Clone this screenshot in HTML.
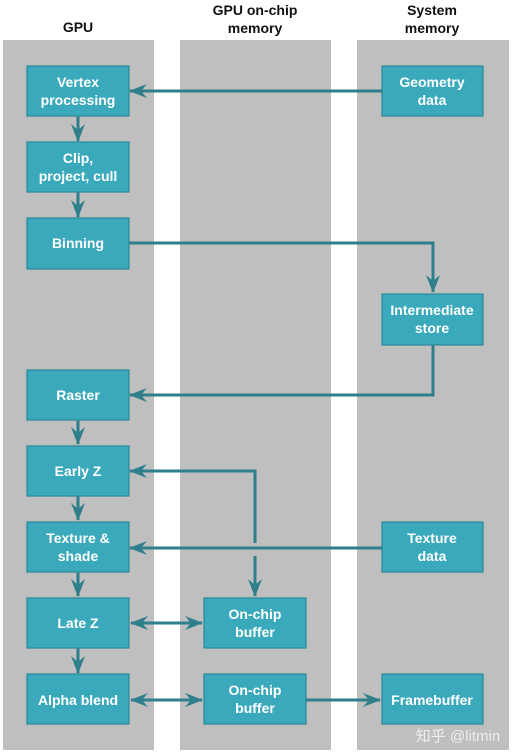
<!DOCTYPE html>
<html><head><meta charset="utf-8"><style>
html,body{margin:0;padding:0;background:#fff;width:517px;height:754px;overflow:hidden}
svg{display:block}
text{font-family:"Liberation Sans","Noto Sans CJK SC",sans-serif;font-weight:bold;font-size:14px;text-anchor:middle}
.b{fill:#3aa9bb;stroke:#2a8896;stroke-width:1.2}
.t{fill:#fff}
.l{stroke:#2e7f8b;stroke-width:3;fill:none}
.h{fill:#111}
</style></head><body>
<svg width="517" height="754" viewBox="0 0 517 754">
<defs>
<marker id="a" viewBox="0 0 18 14" refX="17" refY="7" markerWidth="18" markerHeight="14" orient="auto-start-reverse" markerUnits="userSpaceOnUse">
<path d="M0,0 L18,7 L0,14 L6,7 z" fill="#2e7f8b"/></marker>
</defs>
<rect x="3" y="40" width="151" height="710" fill="#bfbfbf"/>
<rect x="180" y="40" width="151" height="710" fill="#bfbfbf"/>
<rect x="357" y="40" width="152" height="710" fill="#bfbfbf"/>
<text class="h" x="78" y="32">GPU</text>
<text class="h" x="255" y="15">GPU on-chip</text>
<text class="h" x="255" y="33">memory</text>
<text class="h" x="432" y="15">System</text>
<text class="h" x="432" y="33">memory</text>

<path class="l" d="M382,91 H130" marker-end="url(#a)"/>
<path class="l" d="M78,116 V141" marker-end="url(#a)"/>
<path class="l" d="M78,192 V217" marker-end="url(#a)"/>
<path class="l" d="M129,243 H433 V292" marker-end="url(#a)"/>
<path class="l" d="M433,344 V395 H130" marker-end="url(#a)"/>
<path class="l" d="M78,420 V444" marker-end="url(#a)"/>
<path class="l" d="M78,496 V520" marker-end="url(#a)"/>
<path class="l" d="M78,572 V596" marker-end="url(#a)"/>
<path class="l" d="M78,648 V673" marker-end="url(#a)"/>
<path class="l" d="M255,543 V471 H130" marker-end="url(#a)"/>
<path class="l" d="M255,556 V596" marker-end="url(#a)"/>
<path class="l" d="M382,548 H130" marker-end="url(#a)"/>
<path class="l" d="M131,623 H202" marker-start="url(#a)" marker-end="url(#a)"/>
<path class="l" d="M131,700 H202" marker-start="url(#a)" marker-end="url(#a)"/>
<path class="l" d="M306,700 H380" marker-end="url(#a)"/>

<rect class="b" x="27" y="66" width="102" height="50"/>
<text class="t" x="78" y="87">Vertex</text><text class="t" x="78" y="105">processing</text>
<rect class="b" x="27" y="142" width="102" height="50"/>
<text class="t" x="78" y="163">Clip,</text><text class="t" x="78" y="181">project, cull</text>
<rect class="b" x="27" y="218" width="102" height="51"/>
<text class="t" x="78" y="248">Binning</text>
<rect class="b" x="27" y="370" width="102" height="50"/>
<text class="t" x="78" y="400">Raster</text>
<rect class="b" x="27" y="446" width="102" height="50"/>
<text class="t" x="78" y="476">Early Z</text>
<rect class="b" x="27" y="522" width="102" height="50"/>
<text class="t" x="78" y="543">Texture &amp;</text><text class="t" x="78" y="561">shade</text>
<rect class="b" x="27" y="598" width="102" height="50"/>
<text class="t" x="78" y="628">Late Z</text>
<rect class="b" x="27" y="674" width="102" height="50"/>
<text class="t" x="78" y="705">Alpha blend</text>

<rect class="b" x="204" y="598" width="102" height="50"/>
<text class="t" x="255" y="619">On-chip</text><text class="t" x="255" y="637">buffer</text>
<rect class="b" x="204" y="674" width="102" height="50"/>
<text class="t" x="255" y="695">On-chip</text><text class="t" x="255" y="713">buffer</text>

<rect class="b" x="382" y="66" width="101" height="50"/>
<text class="t" x="432" y="87">Geometry</text><text class="t" x="432" y="105">data</text>
<rect class="b" x="382" y="294" width="101" height="51"/>
<text class="t" x="432" y="315">Intermediate</text><text class="t" x="432" y="333">store</text>
<rect class="b" x="382" y="522" width="101" height="50"/>
<text class="t" x="432" y="543">Texture</text><text class="t" x="432" y="561">data</text>
<rect class="b" x="382" y="674" width="101" height="50"/>
<text class="t" x="432" y="705">Framebuffer</text>

<text x="458" y="741" style="font-weight:normal;font-size:15px;fill:#f4f4f4;opacity:0.9">知乎 @litmin</text>
</svg>
</body></html>
